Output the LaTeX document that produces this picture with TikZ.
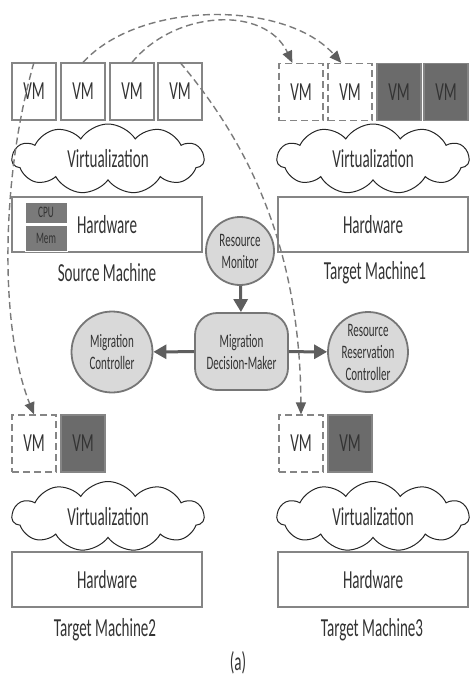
\documentclass[tikz,border=0pt]{standalone}
\usepackage{fontspec}
\setmainfont{Carlito}[FakeStretch=0.58]
\usetikzlibrary{shapes.symbols,arrows.meta}
\definecolor{txtc}{HTML}{333333}
\definecolor{bordc}{HTML}{858585}
\definecolor{darkvm}{HTML}{6B6B6B}
\definecolor{circfill}{HTML}{D9D9D9}
\definecolor{circbord}{HTML}{767676}
\definecolor{arrc}{HTML}{5E5E5E}
\definecolor{dashc}{HTML}{7A7A7A}
\begin{document}
\begin{tikzpicture}[x=1pt,y=-1pt,
 big/.style={font=\fontsize{26}{28}\selectfont, text=txtc},
 small/.style={font=\fontsize{19}{22}\selectfont, text=txtc, align=center},
 vmbox/.style={big, draw=bordc, line width=1.2pt, fill=white, minimum width=44pt, minimum height=57pt, inner sep=0pt},
 vmdash/.style={vmbox, dash pattern=on 7pt off 4pt},
 vmdark/.style={vmbox, fill=darkvm},
 hw/.style={big, draw=bordc, line width=1.3pt, fill=white, minimum width=190pt, minimum height=55pt, inner sep=0pt},
 cloudn/.style={big, cloud, cloud puffs=11, cloud puff arc=115, cloud ignores aspect, draw=black!85, line width=1pt, fill=white, minimum width=192pt, minimum height=70pt, inner sep=0pt},
 circ/.style={small, circle, draw=circbord, line width=1.8pt, fill=circfill, inner sep=0pt},
 cpubox/.style={font=\fontsize{16}{18}\selectfont, text=txtc, fill=darkvm!90, draw=white, line width=0.6pt, minimum width=42pt, inner sep=0pt},
 lab/.style={big, inner sep=0pt},
 mig/.style={dashc, line width=1.4pt, dash pattern=on 7pt off 4pt, -{Triangle[length=12pt,width=10pt,color=arrc]}},
 flow/.style={arrc, line width=3pt, -{Triangle[length=13pt,width=14pt]}},
]
\useasboundingbox (0,0) rectangle (469,688);

% Source machine
\node[vmbox] (s1) at (34,91.5) {VM};
\node[vmbox] (s2) at (83,91.5) {VM};
\node[vmbox] (s3) at (132,91.5) {VM};
\node[vmbox] (s4) at (180,91.5) {VM};
\node[cloudn] (sc) at (108,159) {Virtualization};
\node[hw] (sh) at (107,224.5) {Hardware};
\node[cpubox, minimum height=21pt] (cpu) at (46,212.5) {CPU};
\node[cpubox, minimum height=26pt] (mem) at (46,238) {Mem};
\node[lab] (sl) at (107,273) {Source Machine};

% Target machine 1
\node[vmdash] (t1a) at (301,92) {VM};
\node[vmdash] (t1b) at (350,92) {VM};
\node[vmdark] (t1c) at (399,92) {VM};
\node[vmdark] (t1d) at (446,92) {VM};
\node[cloudn] (tc1) at (373,159) {Virtualization};
\node[hw] (th1) at (373,224.5) {Hardware};
\node[lab] (tl1) at (375,273) {Target Machine1};

% Target machine 2
\node[vmdash] (t2a) at (34,443.5) {VM};
\node[vmdark] (t2b) at (83,443.5) {VM};
\node[cloudn] (tc2) at (108,516.5) {Virtualization};
\node[hw] (th2) at (107,579.5) {Hardware};
\node[lab] (tl2) at (105,630) {Target Machine2};

% Target machine 3
\node[vmdash] (t3a) at (301,443.5) {VM};
\node[vmdark] (t3b) at (350,443.5) {VM};
\node[cloudn] (tc3) at (373,516.5) {Virtualization};
\node[hw] (th3) at (373,579.5) {Hardware};
\node[lab] (tl3) at (372,630) {Target Machine3};

% Control nodes
\node[circ, minimum size=68pt] (rm) at (240,251) {Resource\\Monitor};
\node[small, draw=circbord, line width=1.8pt, fill=circfill, rounded corners=22pt, minimum width=93pt, minimum height=77pt, inner sep=0pt] (dm) at (241.5,351.5) {Migration\\Decision-Maker};
\node[circ, minimum size=81pt] (mc) at (112,352) {Migration\\Controller};
\node[circ, minimum size=80pt] (rrc) at (368,352) {Resource\\Reservation\\Controller};

\draw[flow] (rm) -- (dm);
\draw[flow] (dm) -- (mc);
\draw[flow] (dm) -- (rrc);

% Migration arcs
\draw[mig] (s2.north) .. controls (140,0) and (285,0) .. ([xshift=14pt]t1b.north west);
\draw[mig] (s3.north) .. controls (175,10) and (265,5) .. ([xshift=14pt]t1a.north west);
\draw[mig] (s1.north) .. controls (0,180) and (0,330) .. (t2a.north);
\draw[mig] (s4.north) .. controls (250,145) and (300,250) .. (t3a.north);

\node[lab] (cap) at (238,663) {(a)};
\end{tikzpicture}
\end{document}
